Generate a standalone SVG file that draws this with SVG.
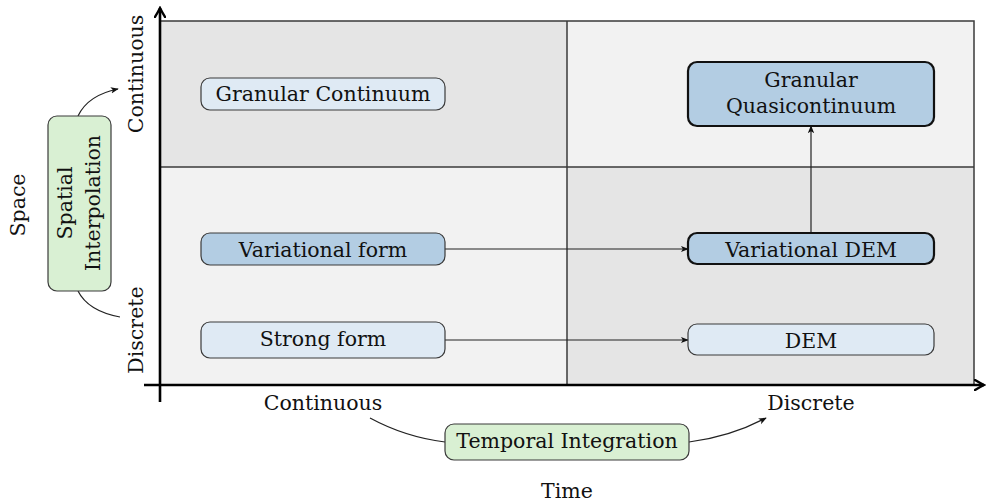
<svg xmlns="http://www.w3.org/2000/svg" width="988" height="504" viewBox="0 0 988 504">
  <defs>
    <style>
      text { font-family: "DejaVu Serif", "Liberation Serif", serif; font-size: 20.5px; fill: #111; text-anchor: middle; }
      .quad-dark { fill: #e5e5e5; }
      .quad-light { fill: #f2f2f2; }
      .grid { fill: none; stroke: #3a3a3a; stroke-width: 1.5; }
      .axis { fill: none; stroke: #000; stroke-width: 2.6; }
      .node-light { fill: #dfeaf4; stroke: #3a3a3a; stroke-width: 1.2; }
      .node-dark { fill: #b3cde3; stroke: #3a3a3a; stroke-width: 1.2; }
      .node-bold { fill: #b3cde3; stroke: #111; stroke-width: 2.2; }
      .node-op { fill: #d9f0d3; stroke: #3a3a3a; stroke-width: 1.2; }
      .edge { fill: none; stroke: #222; stroke-width: 1.2; }
    </style>
    <marker id="tip" viewBox="0 0 10 10" refX="9" refY="5" markerWidth="8" markerHeight="8" markerUnits="userSpaceOnUse" orient="auto">
      <path d="M0,1 L10,5 L0,9 L2.5,5 Z" fill="#111"/>
    </marker>
    <marker id="axis-tip" viewBox="0 0 12 12" refX="10" refY="6" markerWidth="12" markerHeight="12" markerUnits="userSpaceOnUse" orient="auto">
      <path d="M1,1 Q6,4 10,6 Q6,8 1,11" fill="none" stroke="#000" stroke-width="2.4" stroke-linecap="round"/>
    </marker>
  </defs>

  <!-- quadrant backgrounds -->
  <g id="quadrants">
    <rect class="quad-dark" x="160" y="21" width="407" height="146"/>
    <rect class="quad-light" x="567" y="21" width="407" height="146"/>
    <rect class="quad-light" x="160" y="167" width="407" height="218"/>
    <rect class="quad-dark" x="567" y="167" width="407" height="218"/>
    <rect class="grid" x="160" y="21" width="814" height="364"/>
    <line class="grid" x1="567" y1="21" x2="567" y2="385"/>
    <line class="grid" x1="160" y1="167" x2="974" y2="167"/>
  </g>

  <!-- axes -->
  <g id="axes">
    <line class="axis" x1="160" y1="402" x2="160" y2="8" marker-end="url(#axis-tip)"/>
    <line class="axis" x1="144" y1="385" x2="984" y2="385" marker-end="url(#axis-tip)"/>
    <text x="323" y="410">Continuous</text>
    <text x="811" y="410">Discrete</text>
    <text x="567" y="498">Time</text>
    <text transform="translate(143,74) rotate(-90)">Continuous</text>
    <text transform="translate(143,330) rotate(-90)">Discrete</text>
    <text transform="translate(25,205) rotate(-90)">Space</text>
  </g>

  <!-- connectors -->
  <g id="connectors">
    <line class="edge" x1="445" y1="249" x2="688" y2="249" marker-end="url(#tip)"/>
    <line class="edge" x1="445" y1="340" x2="688" y2="340" marker-end="url(#tip)"/>
    <line class="edge" x1="811" y1="233" x2="811" y2="126" marker-end="url(#tip)"/>
    <path class="edge" d="M370,418 Q405,437 445,442"/>
    <path class="edge" d="M689,442 Q730,437 766,418" marker-end="url(#tip)"/>
    <path class="edge" d="M78,116 Q88,95 118,89" marker-end="url(#tip)"/>
    <path class="edge" d="M78,291 Q88,311 120,317"/>
  </g>

  <!-- nodes -->
  <g id="granular-continuum">
    <rect class="node-light" x="201" y="78" width="244" height="32" rx="9"/>
    <text x="323" y="101">Granular Continuum</text>
  </g>
  <g id="variational-form">
    <rect class="node-dark" x="201" y="233" width="244" height="32" rx="9"/>
    <text x="323" y="257">Variational form</text>
  </g>
  <g id="strong-form">
    <rect class="node-light" x="201" y="322" width="244" height="36" rx="9"/>
    <text x="323" y="346">Strong form</text>
  </g>
  <g id="granular-quasicontinuum">
    <rect class="node-bold" x="688" y="62" width="246" height="64" rx="9"/>
    <text x="811" y="87">Granular</text>
    <text x="811" y="113">Quasicontinuum</text>
  </g>
  <g id="variational-dem">
    <rect class="node-bold" x="688" y="233" width="246" height="31" rx="9"/>
    <text x="811" y="257">Variational DEM</text>
  </g>
  <g id="dem">
    <rect class="node-light" x="688" y="324" width="246" height="31" rx="9"/>
    <text x="811" y="348">DEM</text>
  </g>
  <g id="temporal-integration">
    <rect class="node-op" x="445" y="424" width="244" height="36" rx="9"/>
    <text x="567" y="448">Temporal Integration</text>
  </g>
  <g id="spatial-interpolation">
    <rect class="node-op" x="48" y="116" width="63" height="175" rx="9"/>
    <text transform="translate(72,203) rotate(-90)">Spatial</text>
    <text transform="translate(100,203) rotate(-90)">Interpolation</text>
  </g>
</svg>
